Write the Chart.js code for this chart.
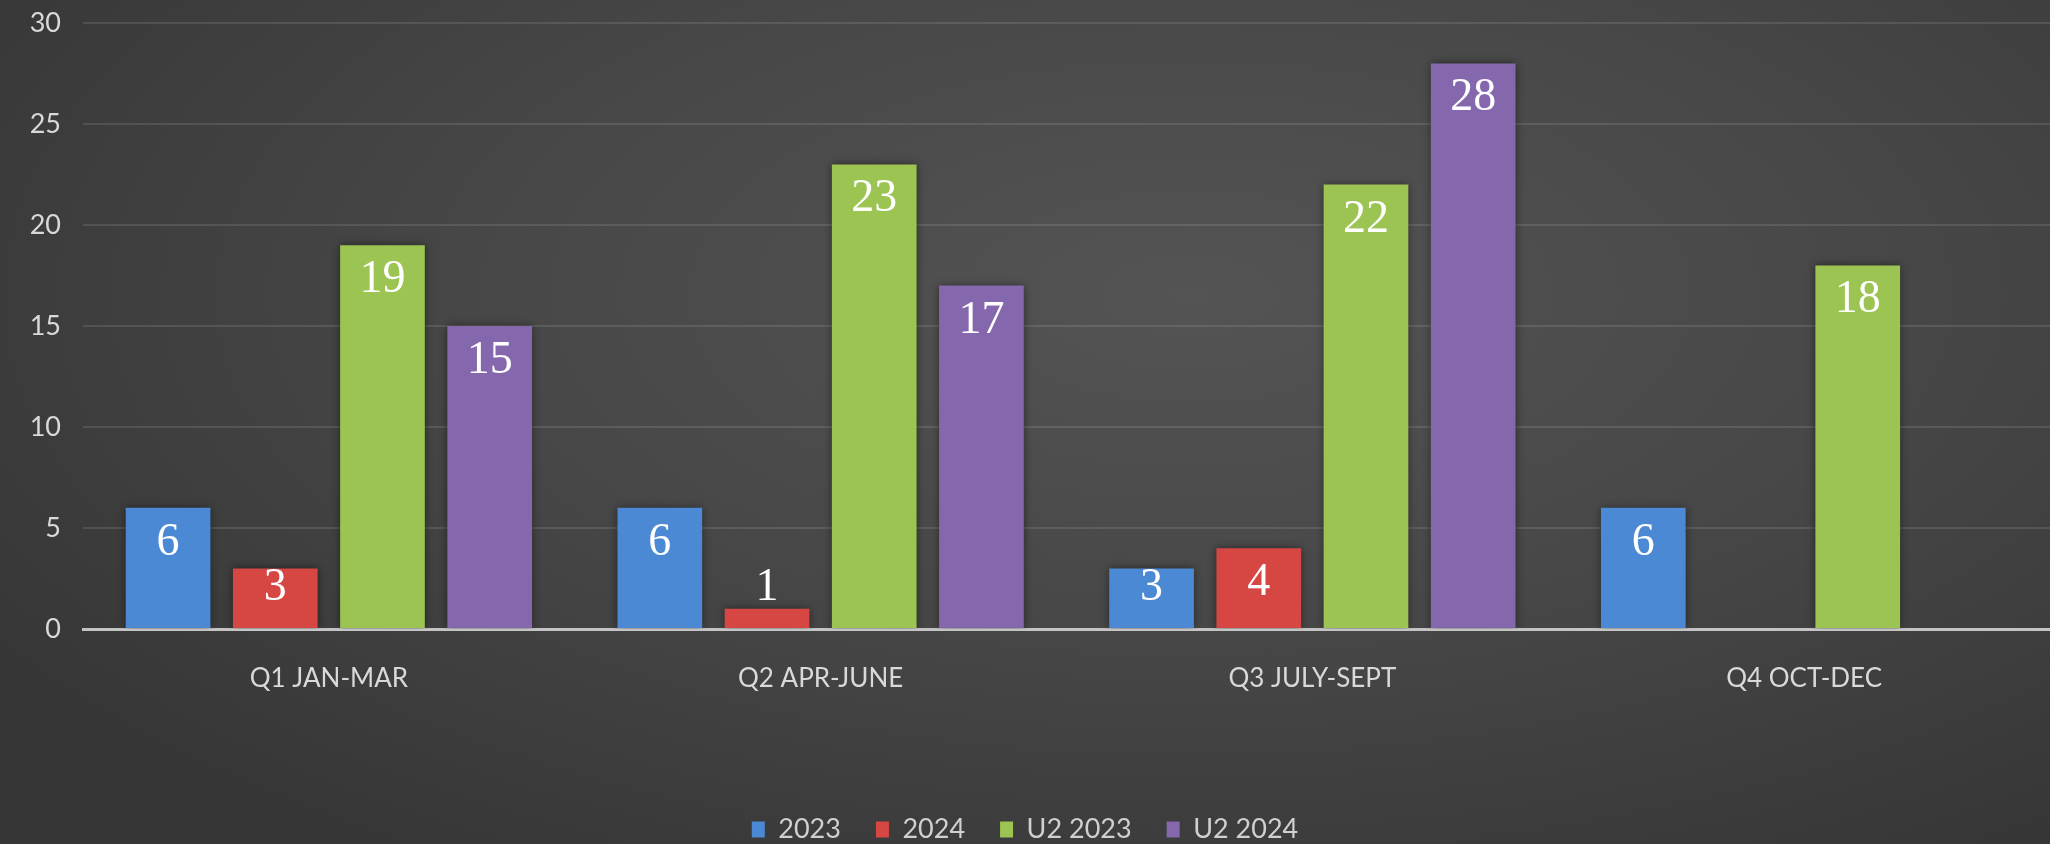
<!DOCTYPE html>
<html>
<head>
<meta charset="utf-8">
<script src="https://cdn.jsdelivr.net/npm/chart.js@4/dist/chart.umd.min.js"></script>
<style>
  html, body { margin: 0; padding: 0; }
  body {
    width: 2050px; height: 844px; overflow: hidden;
    background: radial-gradient(ellipse 70% 80% at 58% 35%, #545454 0%, #474747 50%, #363636 100%);
  }
  canvas { display: block; }
</style>
</head>
<body>
<canvas id="quarterChart" width="2050" height="844"></canvas>
<script>
// quarters on the x axis
var quarters = ["Q1 JAN-MAR", "Q2 APR-JUNE", "Q3 JULY-SEPT", "Q4 OCT-DEC"];

// series values (null = no bar)
var vals2023 = [6, 6, 3, 6];
var vals2024 = [3, 1, 4, null];
var valsU2_2023 = [19, 23, 22, 18];
var valsU2_2024 = [15, 17, 28, null];

var seriesNames = ["2023", "2024", "U2 2023", "U2 2024"];
var seriesColors = ["#4c89d4", "#d64744", "#9cc452", "#8567ad"];

// white serif numbers inside the top of each bar
var barValueLabels = {
  id: "barValueLabels",
  afterDatasetsDraw: function(chart) {
    var ctx = chart.ctx;
    ctx.save();
    ctx.font = "46px 'Liberation Serif', 'Times New Roman', serif";
    ctx.fillStyle = "#ffffff";
    ctx.textAlign = "center";
    ctx.textBaseline = "middle";
    chart.data.datasets.forEach(function(ds, i) {
      var meta = chart.getDatasetMeta(i);
      meta.data.forEach(function(bar, j) {
        var v = ds.data[j];
        if (v === null || v === undefined) return;
        var y = Math.min(bar.y + 35, bar.base - 40);
        ctx.fillText(String(v), bar.x, y);
      });
    });
    ctx.restore();
  }
};

// soft dark halo round the bars
var barShadow = {
  id: "barShadow",
  beforeDatasetsDraw: function(chart) {
    var ctx = chart.ctx;
    ctx.save();
    ctx.shadowColor = "rgba(0,0,0,0.45)";
    ctx.shadowBlur = 8;
  },
  afterDatasetsDraw: function(chart) {
    chart.ctx.restore();
  }
};

var allVals = [vals2023, vals2024, valsU2_2023, valsU2_2024];
var datasets = [];
for (var i = 0; i < allVals.length; i++) {
  datasets.push({
    label: seriesNames[i],
    data: allVals[i],
    backgroundColor: seriesColors[i],
    borderWidth: 0,
    categoryPercentage: 0.872,
    barPercentage: 0.79
  });
}

Chart.defaults.font.family = "Lato, 'Open Sans', sans-serif";
Chart.defaults.color = "#d9d9d9";

new Chart(document.getElementById("quarterChart").getContext("2d"), {
  type: "bar",
  data: { labels: quarters, datasets: datasets },
  plugins: [barShadow, barValueLabels],
  options: {
    responsive: false,
    animation: false,
    // legend text in the original is cut by the bottom edge
    layout: { padding: { top: 23, right: 0, bottom: -9, left: 0 } },
    plugins: {
      tooltip: { enabled: false },
      legend: {
        position: "bottom",
        labels: {
          color: "#d0d0d0",
          font: { size: 27 },
          boxWidth: 13,
          boxHeight: 16,
          padding: 35
        }
      }
    },
    scales: {
      x: {
        grid: { display: false, drawTicks: false },
        border: { display: true, color: "#c4c4c4", width: 3 },
        ticks: { font: { size: 26 }, color: "#d9d9d9", padding: 34 },
        afterFit: function(scale) { scale.height = 152; }
      },
      y: {
        min: 0,
        max: 30,
        ticks: { stepSize: 5, font: { size: 27 }, color: "#d9d9d9", padding: 22 },
        grid: { color: "rgba(255,255,255,0.11)", lineWidth: 2, drawTicks: false },
        border: { display: false },
        afterFit: function(scale) {
          scale.width = 83;
          scale.paddingTop = 0;
          scale.paddingBottom = 0;
        }
      }
    }
  }
});
</script>
</body>
</html>
